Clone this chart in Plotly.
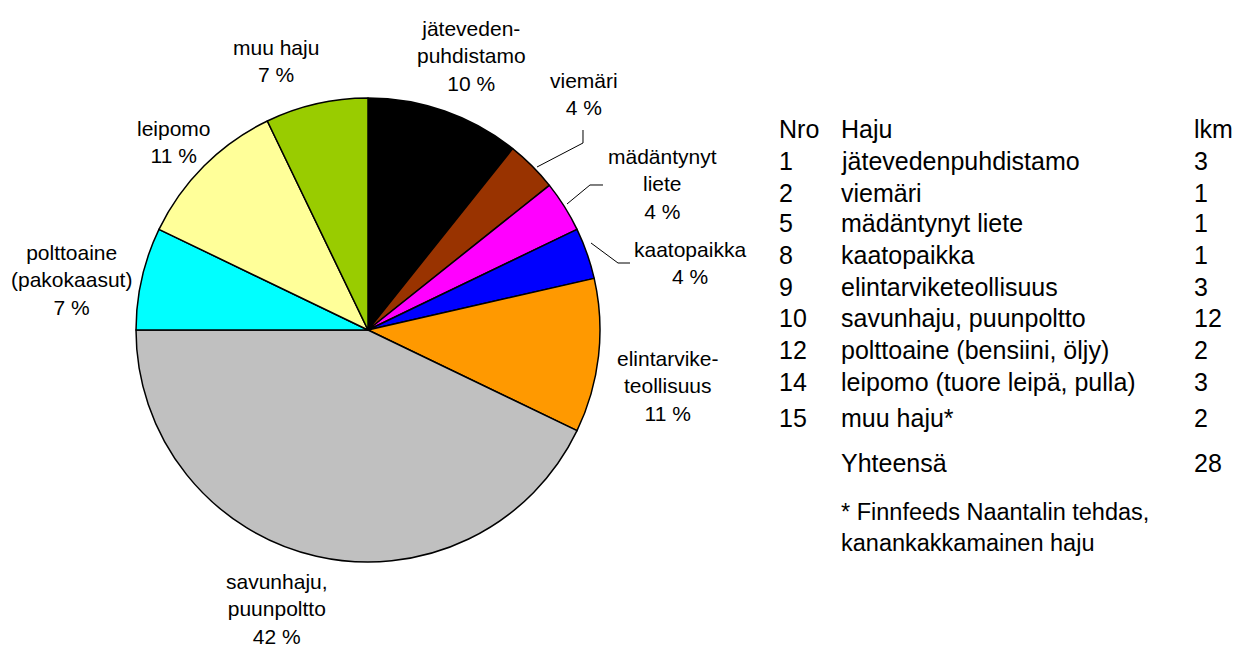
import plotly.graph_objects as go

# ---- data ----
nro = ["1", "2", "5", "8", "9", "10", "12", "14", "15"]
haju = ["jätevedenpuhdistamo", "viemäri", "mädäntynyt liete", "kaatopaikka",
        "elintarviketeollisuus", "savunhaju, puunpoltto", "polttoaine (bensiini, öljy)",
        "leipomo (tuore leipä, pulla)", "muu haju*"]
lkm = [3, 1, 1, 1, 3, 12, 2, 3, 2]
pie_labels = ["jäteveden-<br>puhdistamo", "viemäri", "mädäntynyt<br>liete", "kaatopaikka",
              "elintarvike-<br>teollisuus", "savunhaju,<br>puunpoltto", "polttoaine<br>(pakokaasut)",
              "leipomo", "muu haju"]
pct_labels = ["10 %", "4 %", "4 %", "4 %", "11 %", "42 %", "7 %", "11 %", "7 %"]
colors = ["#000000", "#993300", "#FF00FF", "#0000FF", "#FF9900",
          "#C0C0C0", "#00FFFF", "#FFFF99", "#99CC00"]
total_label = "Yhteensä"
footnote = ["* Finnfeeds Naantalin tehdas,", "kanankakkamainen haju"]

OFF = 8  # page body margin
W, H = 1240 - 2 * OFF, 657 - 2 * OFF
FONT = "Arial, Liberation Sans, sans-serif"


def px(x):
    return (x - OFF) / W


def py(y):
    return 1 - (y - OFF) / H


# pie geometry (screen pixels)
cx, cy, r = 368, 330, 232

fig = go.Figure()
fig.add_trace(go.Pie(
    labels=haju, values=lkm, sort=False, direction="clockwise", rotation=0,
    marker=dict(colors=colors, line=dict(color="#000000", width=1.5)),
    textinfo="none", hoverinfo="label+value+percent", showlegend=False,
    domain=dict(x=[px(cx - r), px(cx + r)], y=[py(cy + r), py(cy - r)]),
))

annotations = []
label_pos = [(471, 56), (584, 94), (662, 184), (690, 263), (668, 386),
             (277, 609), (71, 280), (174, 142), (276, 61)]
for (lx, ly), lab, pc in zip(label_pos, pie_labels, pct_labels):
    annotations.append(dict(
        x=px(lx), y=py(ly), xref="paper", yref="paper", text=lab + "<br>" + pc,
        showarrow=False, xanchor="center", yanchor="middle", align="center",
        font=dict(family=FONT, size=21, color="#000000")))

TF = dict(family=FONT, size=25, color="#000000")
col_x = [777, 839, 1192]
header = ["Nro", "Haju", "lkm"]
row_y = [129, 161, 193, 223, 255, 287, 318, 350, 382, 418]
for cxp, t in zip(col_x, header):
    annotations.append(dict(x=px(cxp), y=py(row_y[0]), xref="paper", yref="paper",
                            text=t, showarrow=False, xanchor="left", yanchor="middle", font=TF))
for i in range(len(nro)):
    yy = row_y[i + 1]
    for cxp, t in zip(col_x, [nro[i], haju[i], str(lkm[i])]):
        annotations.append(dict(x=px(cxp), y=py(yy), xref="paper", yref="paper",
                                text=t, showarrow=False, xanchor="left", yanchor="middle", font=TF))
annotations.append(dict(x=px(839), y=py(463), xref="paper", yref="paper", text=total_label,
                        showarrow=False, xanchor="left", yanchor="middle", font=TF))
annotations.append(dict(x=px(col_x[2]), y=py(463), xref="paper", yref="paper", text=str(sum(lkm)),
                        showarrow=False, xanchor="left", yanchor="middle", font=TF))
for fy, ft in zip([512, 543], footnote):
    annotations.append(dict(x=px(839), y=py(fy), xref="paper", yref="paper", text=ft,
                            showarrow=False, xanchor="left", yanchor="middle",
                            font=dict(family=FONT, size=23.5, color="#000000")))

leaders = [
    [(583, 130), (583, 143), (537, 167)],
    [(603, 185), (590, 185), (567, 204)],
    [(591, 243), (618, 263), (630, 263)],
]
shapes = []
for pts in leaders:
    path = "M " + " L ".join(f"{px(a):.5f},{py(b):.5f}" for a, b in pts)
    shapes.append(dict(type="path", path=path, xref="paper", yref="paper",
                       line=dict(color="#000000", width=1)))

fig.update_layout(
    width=W, height=H, margin=dict(l=0, r=0, t=0, b=0),
    paper_bgcolor="#FFFFFF", plot_bgcolor="#FFFFFF",
    annotations=annotations, shapes=shapes,
    font=dict(family=FONT),
)
fig.write_html("out.html")
